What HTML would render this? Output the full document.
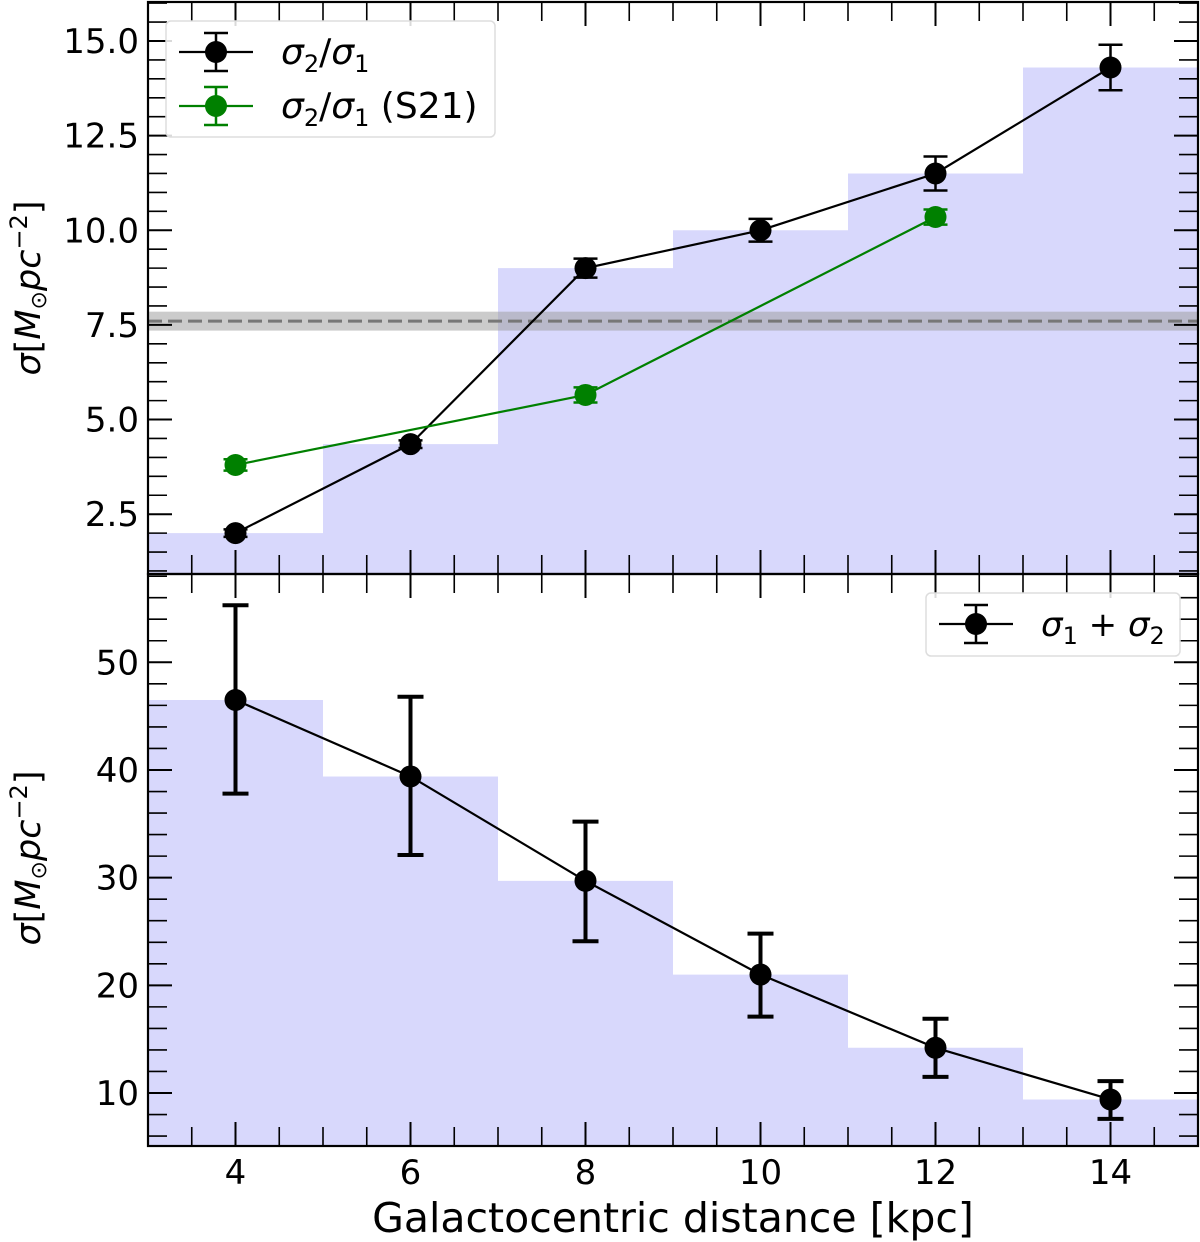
<!DOCTYPE html>
<html><head><meta charset="utf-8"><style>
body{margin:0;background:#fff}
svg{display:block;font-family:"DejaVu Sans","Liberation Sans",sans-serif}
</style></head><body>
<svg id="c" width="1200" height="1242" viewBox="0 0 1200 1242" xmlns="http://www.w3.org/2000/svg"></svg>
<script>
const distances=[4,6,8,10,12,14];
const ratioVals=[2.0,4.35,9.0,10.0,11.5,14.3];
const ratioErr=[0.1,0.1,0.25,0.3,0.45,0.6];
const s21Dist=[4,8,12];
const s21Vals=[3.8,5.65,10.35];
const s21Err=[0.15,0.2,0.2];
const sumVals=[46.5,39.4,29.7,21.0,14.2,9.4];
const sumErrLo=[8.7,7.3,5.6,3.9,2.7,1.8];
const sumErrHi=[8.8,7.4,5.5,3.8,2.7,1.7];
const refLine=7.6, refLo=7.35, refHi=7.85;
const topTicks=[2.5,5.0,7.5,10.0,12.5,15.0];
const botTicks=[10,20,30,40,50];
const xTicks=[4,6,8,10,12,14];

const NS="http://www.w3.org/2000/svg";
const svg=document.getElementById('c');
function el(t,a,p){const e=document.createElementNS(NS,t);for(const k in a)e.setAttribute(k,a[k]);(p||svg).appendChild(e);return e;}
const L=148,R=1198,T=2,M=574,B=1146;
const X=v=>L+(v-3)*(R-L)/12;
const Yt=v=>M-(v-0.92)*(M-T)/(16.03-0.92);
const Yb=v=>B-(v-5.08)*(B-M)/(58.2-5.08);

function panel(name){
  const g=el('g',{});
  
  
  return g;
}
const gt=panel('top-panel');
let d='M'+X(3)+','+Yt(0.92);
distances.forEach((x,i)=>{d+=' L'+X(x-1)+','+Yt(ratioVals[i])+' L'+X(x+1)+','+Yt(ratioVals[i]);});
d+=' L'+X(15)+','+Yt(0.92)+'Z';
let h=el('path',{d:d,fill:'#d8d8fc'},gt);


let band=el('rect',{x:L,y:Yt(refHi),width:R-L,height:Yt(refLo)-Yt(refHi),fill:'#a0a0a0','fill-opacity':0.55},gt);


let rl=el('line',{x1:L,x2:R,y1:Yt(refLine),y2:Yt(refLine),stroke:'#777','stroke-width':3,'stroke-dasharray':'14,6'},gt);



function series(g,xs,ys,lo,hi,Y,color,name,ew,cap){
  const pl=el('polyline',{points:xs.map((x,i)=>X(x)+','+Y(ys[i])).join(' '),fill:'none',stroke:color,'stroke-width':2.2},g);
  
  
  xs.forEach((x,i)=>{
    const cx=X(x),y1=Y(ys[i]-lo[i]),y2=Y(ys[i]+hi[i]);
    const eb=el('path',{d:`M${cx},${y1}V${y2}M${cx-cap},${y1}H${cx+cap}M${cx-cap},${y2}H${cx+cap}`,stroke:color,'stroke-width':ew,fill:'none'},g);
    
    
    const c=el('circle',{cx:cx,cy:Y(ys[i]),r:11,fill:color},g);
    
    
  });
}
series(gt,distances,ratioVals,ratioErr,ratioErr,Yt,'#000','ratio',2.5,12);
series(gt,s21Dist,s21Vals,s21Err,s21Err,Yt,'#008000','ratio-s21',2.5,12);

const gb=panel('bottom-panel');
d='M'+X(3)+','+Yb(5.08);
distances.forEach((x,i)=>{d+=' L'+X(x-1)+','+Yb(sumVals[i])+' L'+X(x+1)+','+Yb(sumVals[i]);});
d+=' L'+X(15)+','+Yb(5.08)+'Z';
h=el('path',{d:d,fill:'#d8d8fc'},gb);


series(gb,distances,sumVals,sumErrLo,sumErrHi,Yb,'#000','sum',4,13);

function frame(t,b){el('rect',{x:L,y:t,width:R-L,height:b-t,fill:'none',stroke:'#000','stroke-width':2.2});}
frame(T,M);frame(M,B);
function xticks(t,b){
  for(let v=3;v<=15.001;v+=0.5){
    const major=xTicks.includes(v);const len=major?24:19;const x=X(v);
    el('line',{x1:x,x2:x,y1:b,y2:b-len,stroke:'#000','stroke-width':major?2:1.6});
    el('line',{x1:x,x2:x,y1:t,y2:t+len,stroke:'#000','stroke-width':major?2:1.6});
  }
}
xticks(T,M);xticks(M,B);
function yticks(Y,lo,hi,step,majors,fmt,ty){
  for(let v=Math.ceil(lo/step)*step;v<=hi;v+=step){
    const vv=Math.round(v*100)/100;const major=majors.some(m=>Math.abs(m-vv)<1e-6);const len=major?24:19;const y=Y(vv);
    el('line',{x1:L,x2:L+len,y1:y,y2:y,stroke:'#000','stroke-width':major?2:1.6});
    el('line',{x1:R,x2:R-len,y1:y,y2:y,stroke:'#000','stroke-width':major?2:1.6});
    if(major){const t=el('text',{x:L-9,y:y+12,'text-anchor':'end','font-size':34,fill:'#000'});t.textContent=fmt(vv);
      }
  }
}
yticks(Yt,1.0,16.0,0.5,topTicks,v=>v.toFixed(1),'top-y');
yticks(Yb,6,58,2,botTicks,v=>String(v),'bottom-y');
xTicks.forEach(v=>{const t=el('text',{x:X(v),y:1184,'text-anchor':'middle','font-size':34,fill:'#000'});t.textContent=v;
  });
let xt=el('text',{x:673,y:1232,'text-anchor':'middle','font-size':41,fill:'#000'});xt.textContent='Galactocentric distance [kpc]';

function ylab(cy,name){
  const t=el('text',{transform:`translate(40,${cy}) rotate(-90)`,'text-anchor':'middle','font-size':35,fill:'#000'});
  t.innerHTML='<tspan font-style="italic">σ</tspan>[<tspan font-style="italic">M</tspan><tspan font-size="22" dy="6">⊙</tspan><tspan dy="-6" font-style="italic">pc</tspan><tspan font-size="24" dy="-13">−2</tspan><tspan dy="13">]</tspan>';
  
}
ylab(288,'top-y-axis-title');ylab(858,'bottom-y-axis-title');

function legend(x,y,w,hgt,items,name,fs){
  const g=el('g',{});
  el('rect',{x:x,y:y,width:w,height:hgt,rx:5,fill:'#fff','fill-opacity':0.85,stroke:'#ddd','stroke-width':1.5},g);
  items.forEach((it,i)=>{
    const cy=y+31+i*54,cx=x+50;
    el('line',{x1:cx-37,x2:cx+37,y1:cy,y2:cy,stroke:it.c,'stroke-width':2.2},g);
    el('path',{d:`M${cx},${cy-19}V${cy+19}M${cx-12},${cy-19}H${cx+12}M${cx-12},${cy+19}H${cx+12}`,stroke:it.c,'stroke-width':2.5},g);
    el('circle',{cx:cx,cy:cy,r:11,fill:it.c},g);
    const t=el('text',{x:x+115,y:cy+12,'font-size':fs,fill:'#000'},g);t.innerHTML=it.t;
    
  });
}
const sig=(n)=>`<tspan font-style="italic">σ</tspan><tspan font-size="24" dy="8">${n}</tspan><tspan dy="-8">`;
legend(166,21,329,116,[{c:'#000',t:sig(2)+'/</tspan>'+sig(1)+'</tspan>'},{c:'#008000',t:sig(2)+'/</tspan>'+sig(1)+' (S21)</tspan>'}],'top-legend',36);
legend(926,593,254,63,[{c:'#000',t:sig(1)+' + </tspan>'+sig(2)+'</tspan>'}],'bottom-legend',34);
</script>
</body></html>
